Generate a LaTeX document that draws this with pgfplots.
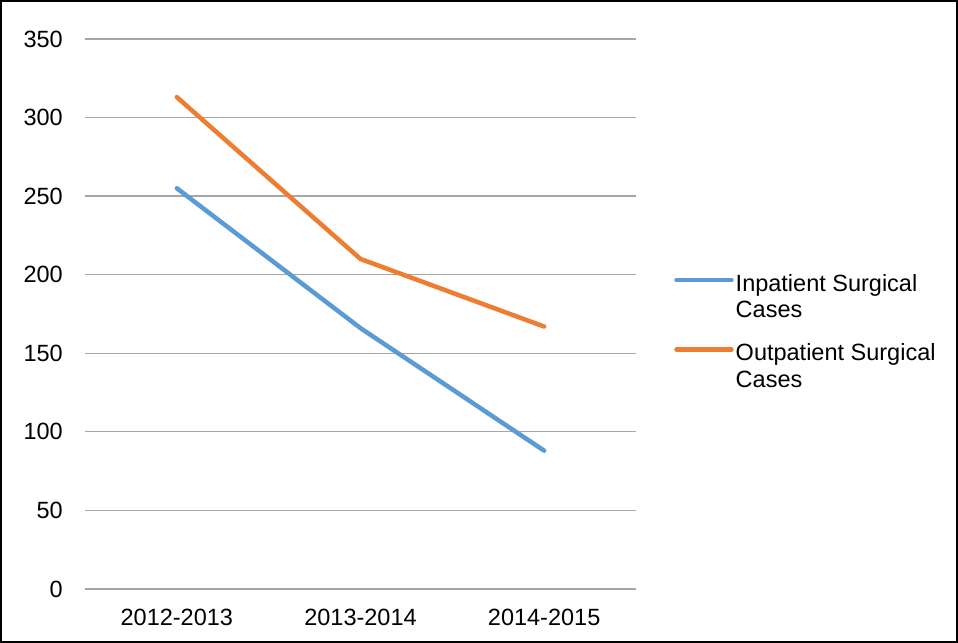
\documentclass[border=0pt]{standalone}
\usepackage{pgfplots}
\pgfplotsset{compat=1.18}
\usepackage{fontspec}
\setmainfont{Liberation Sans}
\definecolor{blu}{HTML}{5B9BD5}
\definecolor{ora}{HTML}{ED7D31}
\definecolor{grd}{HTML}{A6A6A6}
\newcommand{\cf}{\fontsize{23.5bp}{26.5bp}\selectfont}
\begin{document}
\begin{tikzpicture}[x=1bp,y=1bp]
\useasboundingbox (0,0) rectangle (958,643);
\draw[line width=2bp] (1,1) rectangle (957,642);
\begin{axis}[
  at={(85bp,54bp)}, anchor=south west,
  scale only axis, width=551bp, height=550bp,
  xmin=-0.5, xmax=2.5, ymin=0, ymax=350,
  xtick={0,1,2}, xticklabels={2012-2013,2013-2014,2014-2015},
  ytick={0,50,...,350},
  ymajorgrids, grid style={grd, line width=1.3bp},
  axis line style={draw=none},
  major tick length=0pt,
  tick label style={font=\cf, inner sep=0pt},
  /pgf/number format/assume math mode=true,
  yticklabel style={anchor=east, xshift=-22bp},
  xticklabel style={anchor=north, yshift=-20bp},
  legend style={draw=none, fill=none, inner sep=0pt, font=\cf,
    at={(axis description cs:1.0690,0.5764)}, anchor=north west,
    cells={anchor=north west, align=left, inner sep=0pt},
    row sep=20bp,
    /tikz/every even column/.append style={column sep=3bp}},
  legend image code/.code={\draw[#1, line width=4.5bp, line cap=round] (0bp,-8bp) -- (55bp,-8bp);},
  every axis plot/.append style={line width=4.5bp, line cap=round, line join=round, no markers},
]
\addplot[blu] coordinates {(0,255) (1,166) (2,88)};
\addlegendentry{Inpatient Surgical\\Cases}
\addplot[ora] coordinates {(0,313) (1,210) (2,167)};
\addlegendentry{Outpatient Surgical\\Cases}
\end{axis}
\end{tikzpicture}
\end{document}
